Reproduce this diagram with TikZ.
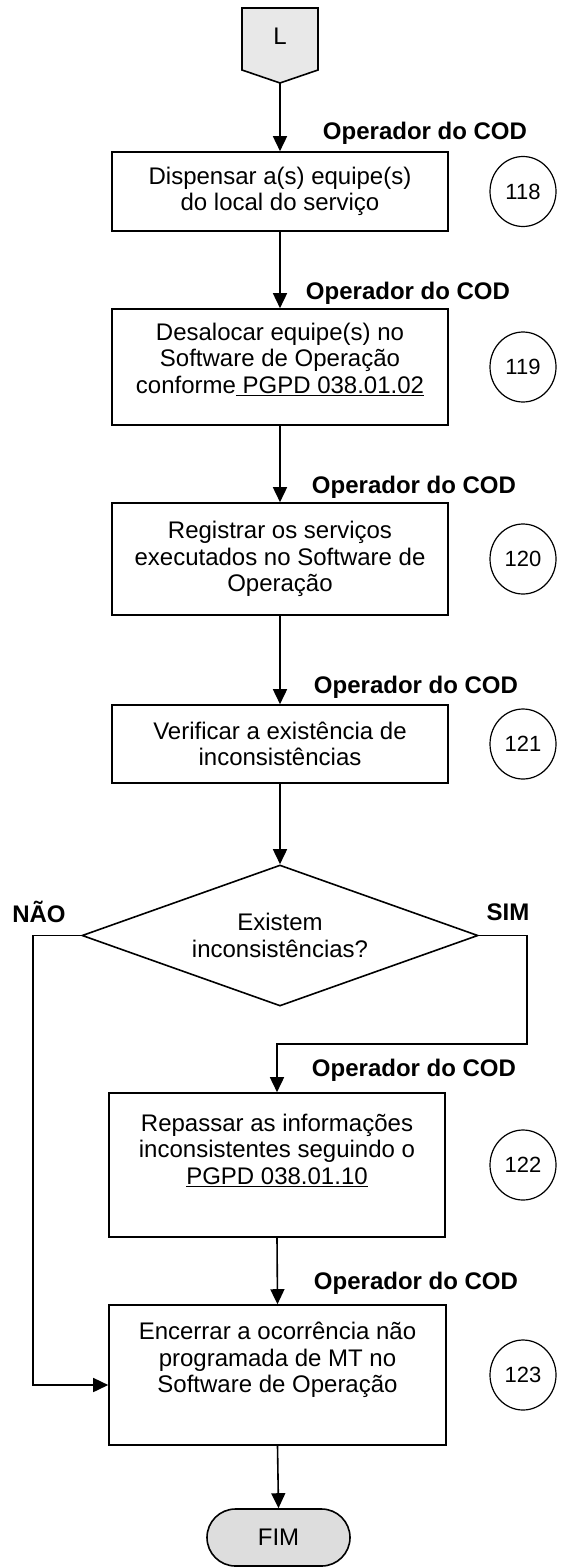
\documentclass[tikz,border=0pt]{standalone}
\usepackage{fontspec}
\setmainfont{Liberation Sans}
\usetikzlibrary{arrows.meta,shapes.geometric,shapes.misc}
\definecolor{penfill}{HTML}{E8E8E8}
\definecolor{fimfill}{HTML}{DDDDDD}
\begin{document}
\begin{tikzpicture}[x=1pt,y=-1pt,
  box/.style={draw, line width=1.6pt, rectangle, inner sep=0pt, minimum width=336pt, align=center, font=\fontsize{24}{26.5}\selectfont},
  txt/.style={align=center, inner sep=0pt, font=\fontsize{24}{26.5}\selectfont},
  role/.style={inner sep=0pt, font=\fontsize{24}{26}\selectfont\bfseries},
  num/.style={draw, ellipse, line width=1.2pt, minimum width=66pt, minimum height=70pt, inner sep=0pt, font=\fontsize{22}{24}\selectfont},
  ln/.style={line width=1.6pt},
  arr/.style={line width=1.6pt, -{Triangle[length=15pt,width=14pt]}}]
\useasboundingbox (0,0) rectangle (561,1568);
% start connector
\draw[ln, fill=penfill] (242,8) -- (318,8) -- (318,70) -- (280,83) -- (242,70) -- cycle;
\node[txt] (L) at (280,36) {L};
\coordinate (Lp) at (280,83);
% boxes
\node[box, minimum height=79pt] (b1) at (280,191.5) {Dispensar a(s) equipe(s)\\do local do serviço};
\node[box, minimum height=116pt] (b2) at (280,367) {};
\node[txt] (t2) at (280,359) {Desalocar equipe(s) no\\Software de Operação\\conforme\underline{\ PGPD 038.01.02}};
\node[box, minimum height=112pt] (b3) at (280,559) {Registrar os serviços\\executados no Software de\\Operação};
\node[box, minimum height=78pt] (b4) at (280,744) {Verificar a existência de\\inconsistências};
\node[draw, diamond, line width=1.6pt, shape aspect=2.8, minimum width=396pt, minimum height=141pt, inner sep=0pt, align=center, font=\fontsize{24}{26.5}\selectfont] (d) at (280,935.5) {Existem\\inconsistências?};
\node[box, minimum height=144pt] (b6) at (277,1165) {};
\node[txt] (t6) at (277,1150) {Repassar as informações\\inconsistentes seguindo o\\\underline{PGPD 038.01.10}};
\node[box, minimum width=337pt, minimum height=140pt] (b7) at (277.5,1375) {};
\node[txt] (t7) at (277.5,1360) {Encerrar a ocorrência não\\programada de MT no\\Software de Operação};
\node[draw, rounded rectangle, line width=1.6pt, fill=fimfill, minimum width=143pt, minimum height=57pt, inner sep=0pt, font=\fontsize{24}{26}\selectfont] (fim) at (278.5,1537.5) {FIM};
% role labels
\node[role] (r1) at (425,133) {Operador do COD};
\node[role] (r2) at (408,293) {Operador do COD};
\node[role] (r3) at (414,487) {Operador do COD};
\node[role] (r4) at (416,687) {Operador do COD};
\node[role] (r6) at (414,1070) {Operador do COD};
\node[role] (r7) at (416,1283) {Operador do COD};
% step numbers
\node[num] (c1) at (523,191.5) {118};
\node[num] (c2) at (523,367) {119};
\node[num] (c3) at (523,559) {120};
\node[num] (c4) at (523,744) {121};
\node[num] (c6) at (523,1165) {122};
\node[num] (c7) at (523,1375) {123};
% branch labels
\node[role] (nao) at (39,912) {NÃO};
\node[role] (sim) at (508,912) {SIM};
% connectors
\draw[arr] (Lp) -- (b1.north);
\draw[arr] (b1.south) -- (b2.north);
\draw[arr] (b2.south) -- (b3.north);
\draw[arr] (b3.south) -- (b4.north);
\draw[arr] (b4.south) -- (d.north);
\draw[arr] (d.west) -- ++(-48,0) |- ([yshift=-10pt]b7.west);
\draw[arr] (d.east) -- ++(48,0) -- ++(0,108.5) -| (b6.north);
\draw[arr] (b6.south) -- (b7.north);
\draw[arr] (b7.south) -- (fim.north);
\end{tikzpicture}
\end{document}
